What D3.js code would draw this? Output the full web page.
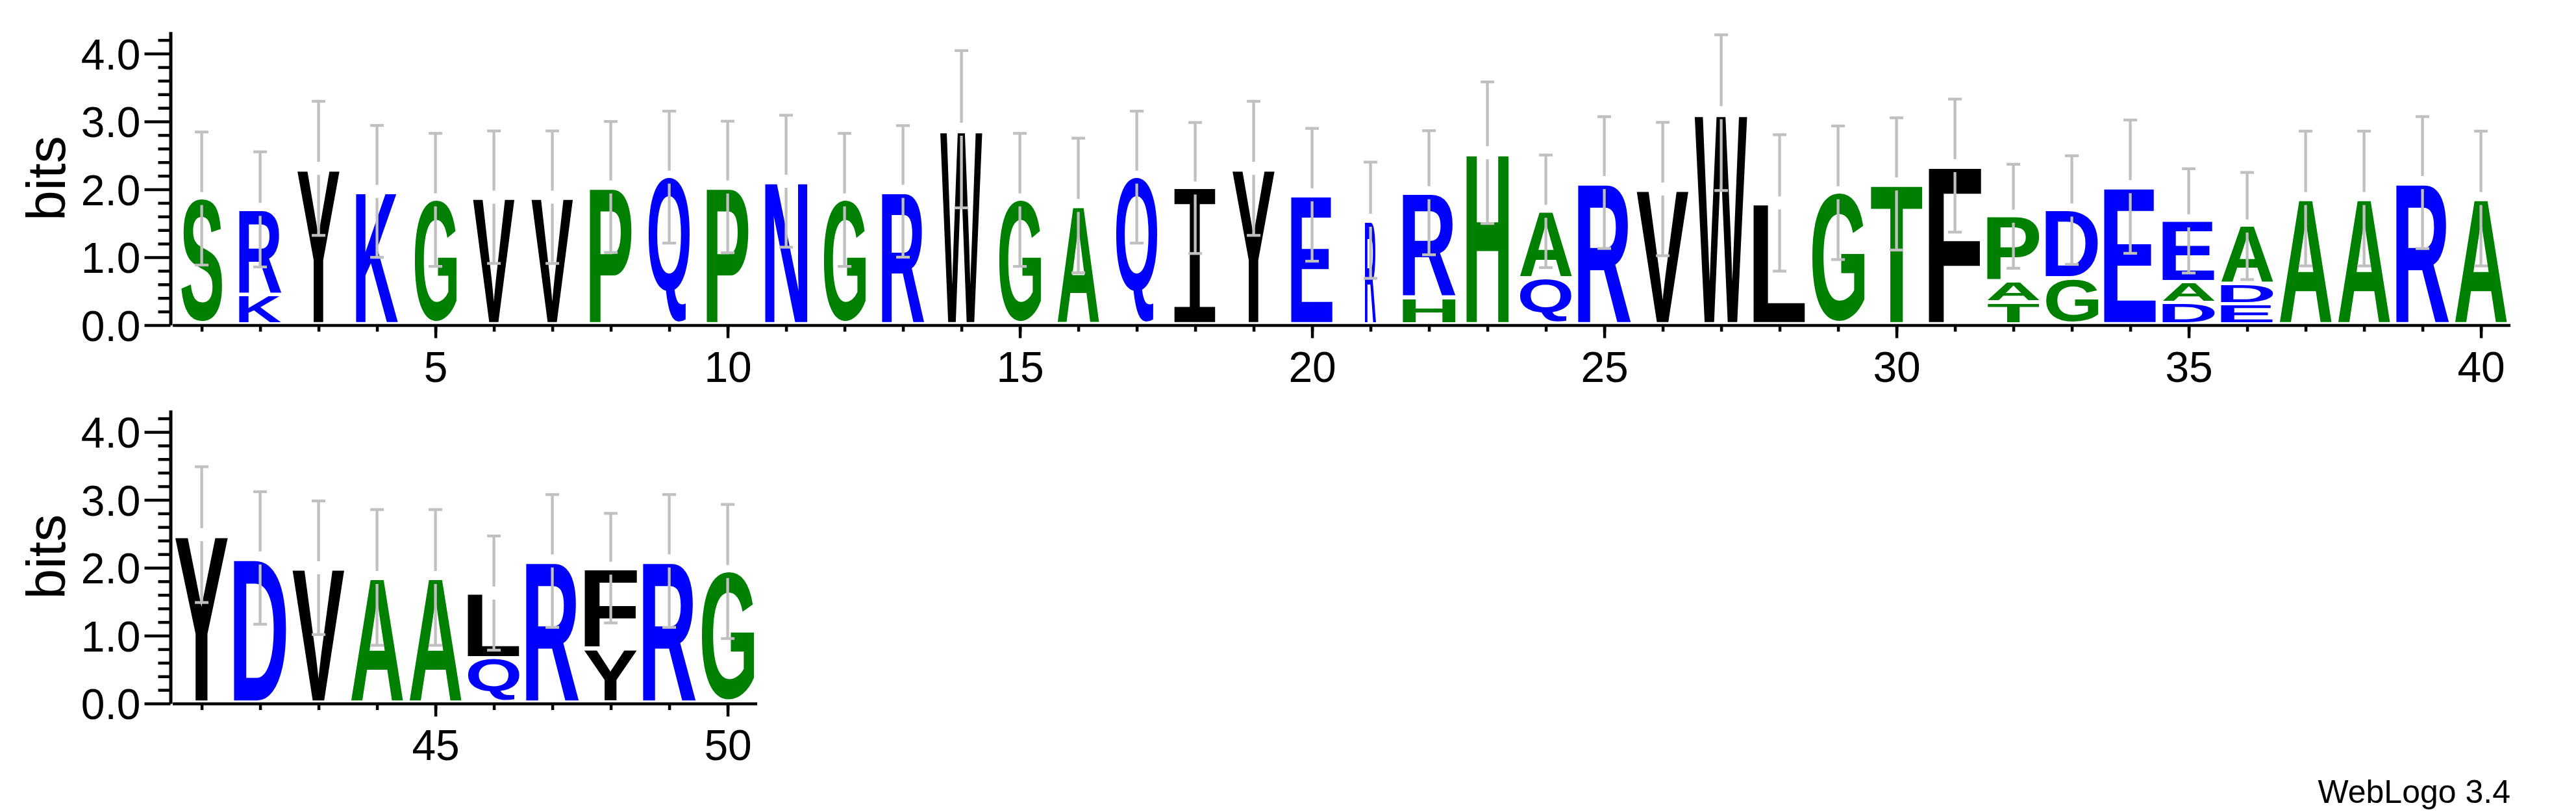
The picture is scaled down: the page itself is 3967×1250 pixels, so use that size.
<!DOCTYPE html>
<html><head><meta charset="utf-8">
<script src="https://cdn.jsdelivr.net/npm/d3@7"></script>
<style>html,body{margin:0;padding:0;background:#fff}</style>
</head><body>
<script>
// ---------------- data ----------------
const positions = [1,2,3,4,5,6,7,8,9,10,11,12,13,14,15,16,17,18,19,20,
                   21,22,23,24,25,26,27,28,29,30,31,32,33,34,35,36,37,38,39,40,
                   41,42,43,44,45,46,47,48,49,50];
// residues of each stack, bottom to top
const residues = [["S"],["K","R"],["Y"],["K"],["G"],["V"],["V"],["P"],["Q"],["P"],
                  ["N"],["G"],["R"],["W"],["G"],["A"],["Q"],["I"],["Y"],["E"],
                  ["R"],["H","R"],["H"],["Q","A"],["R"],["V"],["W"],["L"],["G"],["T"],
                  ["F"],["T","A","P"],["G","D"],["E"],["D","A","E"],["E","D","A"],["A"],["A"],["R"],["A"],
                  ["Y"],["D"],["V"],["A"],["A"],["Q","L"],["R"],["Y","F"],["R"],["G"]];
// information (bits) of each residue, same order
const bits = [[1.865],[0.43,1.275],[2.31],[1.97],[1.845],[1.885],[1.885],[2.035],[2.18],[2.035],
              [2.12],[1.845],[1.97],[2.886],[1.845],[1.763],[2.18],[2.02],[2.31],[1.92],
              [1.545],[0.388,1.562],[2.54],[0.677,1.0],[2.10],[2.005],[3.13],[1.80],[1.95],[2.08],
              [2.35],[0.325,0.313,0.966],[0.677,1.018],[2.04],[0.313,0.307,0.916],[0.295,0.295,0.87],[1.865],[1.865],[2.10],[1.865],
              [2.488],[2.144],[2.0],[1.857],[1.857],[0.655,0.972],[2.10],[0.794,1.20],[2.10],[1.945]];
// error bar half-length (bits)
const errorBars = [0.98,0.848,0.988,0.972,0.98,0.976,0.976,0.965,0.972,0.969,
                   0.972,0.98,0.969,1.158,0.98,0.991,0.972,0.965,0.988,0.978,
                   0.856,0.914,1.043,0.829,0.971,0.982,1.147,1.005,0.984,0.974,
                   0.98,0.766,0.80,0.982,0.768,0.789,0.993,0.993,0.972,0.993,
                   1.0,0.976,0.984,1.0,1.0,0.841,0.978,0.807,0.978,0.988];
// fraction of sequences occupying each column (scales stack width)
const occupancy = [0.8,0.8,0.8,0.8,0.8,0.8,0.8,0.8,0.8,0.8,
                   0.8,0.8,0.8,0.8,0.8,0.8,0.8,0.8,0.8,0.8,
                   0.21,1,0.8,1,1,1,1,1,1,1,
                   1,1,1,1,1,1,1,1,1,1,
                   1,1,1,1,1,1,1,1,1,1];
const yTickValues = [0,1,2,3,4];
const xTickLabels = [5,10,15,20,25,30,35,40,45,50];
const yLabel = "bits";
const footer = "WebLogo 3.4";
const colorGroups = [
  {residues: "RKDENQ", color: "#0000ff"},
  {residues: "SGHTAP", color: "#008000"},
  {residues: "YVMCLFIW", color: "#000000"}
];

// ---------------- layout ----------------
const W = 3967, H = 1250;
const pxPerBit = 104.5;
const maxBits = Math.log2(20);
const colW = 90;
const x0 = 265.6;
const rowsDef = [{from: 1, to: 40, base: 500.5}, {from: 41, to: 50, base: 1083}];
const fullLetterW = 81.5;
const letterGap = 4.8;
const axisW = 4.5;
const font = "'Liberation Sans', Arial, Helvetica, sans-serif";

const colorOf = ch => (colorGroups.find(g => g.residues.includes(ch)) || {color: "#000"}).color;

const svg = d3.select("body").append("svg")
  .attr("width", W).attr("height", H).style("display", "block");
svg.append("rect").attr("width", W).attr("height", H).attr("fill", "#fff");

// glyph ink measuring
const FS = 400;
const ctx = document.createElement("canvas").getContext("2d");
const boxCache = {};
function glyphFont(ch) { return ch === "I" ? "'DejaVu Sans Mono', monospace" : font; }
function glyphWeight(ch) { return ch === "I" ? "normal" : "bold"; }
function glyphBox(ch) {
  if (boxCache[ch]) return boxCache[ch];
  ctx.font = `${glyphWeight(ch)} ${FS}px ${glyphFont(ch)}`;
  const m = ctx.measureText(ch);
  return boxCache[ch] = {l: m.actualBoundingBoxLeft, r: m.actualBoundingBoxRight,
                         a: m.actualBoundingBoxAscent, d: m.actualBoundingBoxDescent};
}

rowsDef.forEach(row => {
  const n = row.to - row.from + 1;
  const x = d3.scaleLinear().domain([row.from - 0.5, row.to + 0.5]).range([x0, x0 + n * colW]);
  const y = d3.scaleLinear().domain([0, maxBits]).range([row.base, row.base - maxBits * pxPerBit]);
  const g = svg.append("g");

  const rowPos = positions.filter(p => p >= row.from && p <= row.to);

  // letters
  rowPos.forEach(p => {
    const i = p - 1;
    const w = fullLetterW * occupancy[i];
    let cum = 0;
    residues[i].forEach((ch, k) => {
      const b = bits[i][k];
      const yTop = y(cum + b), yBot = y(cum) - letterGap;
      cum += b;
      const h = yBot - yTop;
      if (h <= 0) return;
      const bx = glyphBox(ch);
      const sx = w / (bx.l + bx.r), sy = h / (bx.a + bx.d);
      g.append("text")
        .attr("transform", `translate(${x(p) - w / 2},${yTop}) scale(${sx},${sy}) translate(${bx.l},${bx.a})`)
        .attr("font-family", glyphFont(ch)).attr("font-weight", glyphWeight(ch)).attr("font-size", FS)
        .attr("fill", colorOf(ch)).text(ch);
    });
  });

  // error bars
  rowPos.forEach(p => {
    const i = p - 1;
    const total = d3.sum(bits[i]);
    const cy = y(total), half = errorBars[i] * pxPerBit, gap = 10, cx = x(p);
    const eg = g.append("g").attr("stroke", "#c0c0c0").attr("stroke-width", 4.3);
    eg.append("line").attr("x1", cx).attr("x2", cx).attr("y1", cy - half).attr("y2", cy - gap);
    eg.append("line").attr("x1", cx).attr("x2", cx).attr("y1", cy + gap).attr("y2", cy + half);
    [cy - half, cy + half].forEach(yy =>
      eg.append("line").attr("x1", cx - 10.5).attr("x2", cx + 10.5).attr("y1", yy).attr("y2", yy));
  });

  // y axis
  const yMinor = d3.range(1, 22).map(v => v / 5).filter(v => Math.abs(v - Math.round(v)) > 1e-6);
  const yMinorAxis = g.append("g").attr("transform", `translate(262.5,0)`)
    .call(d3.axisLeft(y).tickValues(yMinor).tickSize(19).tickFormat(""));
  yMinorAxis.select(".domain").remove();
  const yAxis = g.append("g").attr("transform", `translate(262.5,0)`)
    .call(d3.axisLeft(y).tickValues(yTickValues).tickSize(40).tickSizeOuter(0).tickPadding(6)
      .tickFormat(d3.format(".1f")));
  [yMinorAxis, yAxis].forEach(a => {
    a.selectAll("line").attr("stroke", "#000").attr("stroke-width", axisW);
    a.selectAll(".domain").attr("stroke", "#000").attr("stroke-width", 5);
  });
  yAxis.selectAll("text").attr("font-family", font).attr("font-size", 66).attr("fill", "#000").attr("dy", "0.36em");

  // x axis
  const xMinorAxis = g.append("g").attr("transform", `translate(0,${row.base})`)
    .call(d3.axisBottom(x).tickValues(rowPos).tickSize(10).tickSizeOuter(0).tickFormat(""));
  const xMajorAxis = g.append("g").attr("transform", `translate(0,${row.base})`)
    .call(d3.axisBottom(x).tickValues(xTickLabels.filter(v => v >= row.from && v <= row.to))
      .tickSize(20).tickPadding(20.6).tickFormat(d3.format("d")));
  xMajorAxis.select(".domain").remove();
  [xMinorAxis, xMajorAxis].forEach(a => {
    a.selectAll("line").attr("stroke", "#000").attr("stroke-width", axisW);
    a.selectAll(".domain").attr("stroke", "#000").attr("stroke-width", axisW);
  });
  xMajorAxis.selectAll("text").attr("font-family", font).attr("font-size", 66).attr("fill", "#000");

  // y label
  const yMid = (y(0) + y(maxBits)) / 2;
  g.append("text").attr("transform", `translate(100,${yMid}) rotate(-90)`)
    .attr("text-anchor", "middle").attr("font-family", font).attr("font-size", 84)
    .attr("fill", "#000").text(yLabel);
});

svg.append("text").attr("x", 3866).attr("y", 1236).attr("text-anchor", "end")
  .attr("font-family", font).attr("font-size", 50).attr("fill", "#000").text(footer);
</script>
</body></html>
